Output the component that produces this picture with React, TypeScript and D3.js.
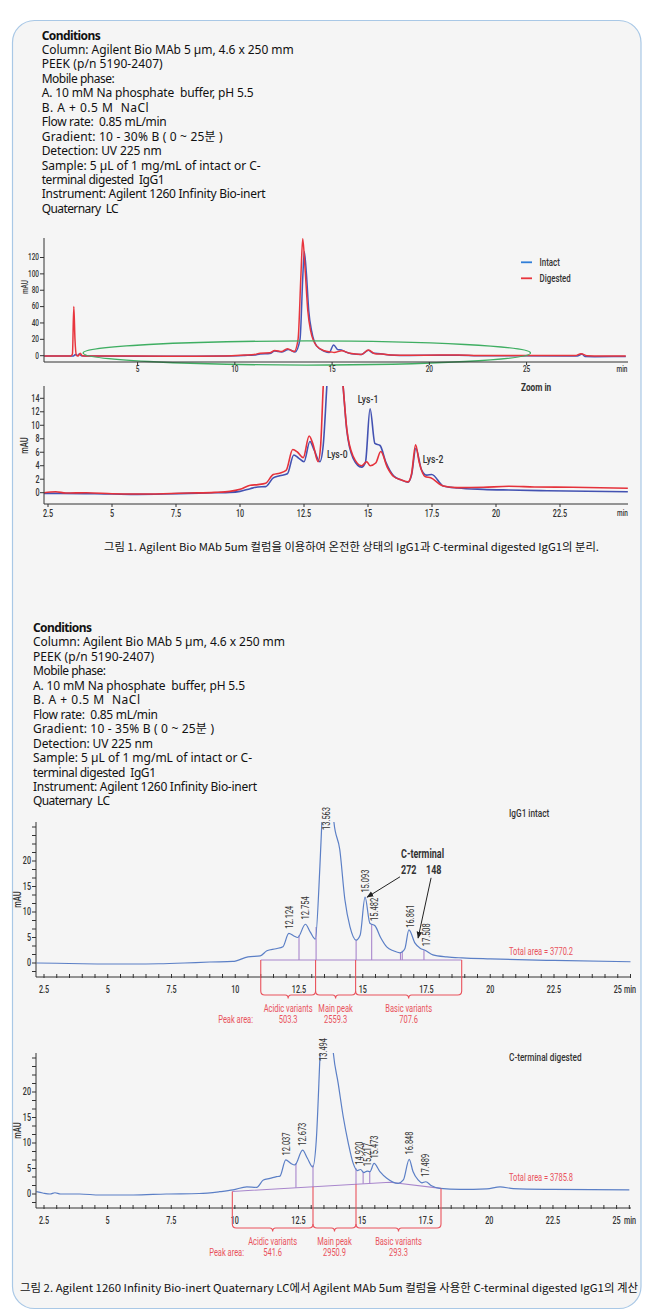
import React from 'react';
import * as d3 from 'd3';

type Pt = [number, number];

// ---------- Text content ----------
const conditionsTitle = 'Conditions';
const conditionsFig1 = [
  'Column: Agilent Bio MAb 5 µm, 4.6 x 250 mm',
  'PEEK (p/n 5190-2407)',
  'Mobile phase:',
  'A. 10 mM Na phosphate  buffer, pH 5.5',
  'B. A + 0.5 M  NaCl',
  'Flow rate:  0.85 mL/min',
  'Gradient: 10 - 30% B ( 0 ~ 25분 )',
  'Detection: UV 225 nm',
  'Sample: 5 µL of 1 mg/mL of intact or C-',
  'terminal digested  IgG1',
  'Instrument: Agilent 1260 Infinity Bio-inert',
  'Quaternary  LC',
];
const conditionsFig2 = [
  'Column: Agilent Bio MAb 5 µm, 4.6 x 250 mm',
  'PEEK (p/n 5190-2407)',
  'Mobile phase:',
  'A. 10 mM Na phosphate  buffer, pH 5.5',
  'B. A + 0.5 M  NaCl',
  'Flow rate:  0.85 mL/min',
  'Gradient: 10 - 35% B ( 0 ~ 25분 )',
  'Detection: UV 225 nm',
  'Sample: 5 µL of 1 mg/mL of intact or C-',
  'terminal digested  IgG1',
  'Instrument: Agilent 1260 Infinity Bio-inert',
  'Quaternary  LC',
];
const conditionWidths = [59, 252, 121, 73, 212, 107, 125, 181, 120, 219, 123, 224, 77];
const caption1 = '그림 1. Agilent Bio MAb 5um 컬럼을 이용하여 온전한 상태의 IgG1과 C-terminal digested IgG1의 분리.';
const caption2 = '그림 2. Agilent 1260 Infinity Bio-inert Quaternary LC에서 Agilent MAb 5um 컬럼을 사용한 C-terminal digested IgG1의 계산';

// ---------- Figure 1: overview ----------
const overviewXTicks = [5, 10, 15, 20, 25];
const overviewYTicks = [0, 20, 40, 60, 80, 100, 120];
const legendNames = ['Intact', 'Digested'];
const overviewIntact: Pt[] = [
  [0.2, -0.5], [1.7, -0.5], [1.8, 1.5], [1.9, 0], [2.0, 2], [2.1, 0], [2.4, -0.5], [8, -0.6], [9.5, -0.4],
  [10.5, 0.3], [11, 0.8], [11.3, 2.2], [11.8, 2.8], [12.05, 5.6], [12.4, 4.5], [12.75, 7.5], [13.1, 4.6],
  [13.35, 20], [13.5, 100], [13.57, 127], [13.68, 100], [13.8, 55], [13.95, 30], [14.2, 12], [14.6, 5.5],
  [14.85, 3.8], [15.08, 13], [15.3, 7.3], [15.48, 7], [15.7, 4.5], [16.0, 2.5], [16.5, 1.6], [16.87, 6.6],
  [17.09, 3.4], [17.49, 2.5], [17.94, 1.0], [19, 0.3], [20.5, 0.6], [21.5, 0.6], [22.5, 0], [27.6, -0.3],
  [27.85, 2], [28.0, -1], [28.5, -1.2], [30.1, -1],
];
const overviewDigested: Pt[] = [
  [0.2, -0.5], [1.55, -0.5], [1.65, 2], [1.72, 60], [1.78, 20], [1.85, 1], [1.95, -0.3], [2.05, 3], [2.15, 0],
  [2.4, -0.5], [5, -0.5], [8, -0.6], [9.5, -0.3], [10.5, 0.8], [11, 1.5], [11.3, 3], [11.8, 3.5], [12.05, 6.5],
  [12.4, 5], [12.7, 8.5], [13.05, 5], [13.25, 20], [13.4, 100], [13.49, 143], [13.6, 110], [13.75, 55],
  [13.9, 30], [14.2, 12], [14.6, 6], [14.95, 4.6], [15.1, 4], [15.5, 6], [15.9, 3], [16.5, 1.6], [16.87, 7],
  [17.2, 2.5], [17.6, 2], [18, 1], [19, 0.4], [20.5, 0.8], [21.5, 0.8], [22.5, 0.3], [27.5, 0.2], [27.8, 2.5],
  [28.1, 0], [30.1, -0.5],
];
const zoomEllipseCenter: Pt = [13.7, 3.3];
const zoomEllipseRadius: Pt = [11.5, 14.7];

// ---------- Figure 1: zoom in ----------
const zoomXTicks = [2.5, 5, 7.5, 10, 12.5, 15, 17.5, 20, 22.5];
const zoomYTicks = [0, 2, 4, 6, 8, 10, 12, 14];
const zoomIntact: Pt[] = [
  [2.35, -0.1], [3, -0.1], [5, -0.2], [6, -0.25], [7, -0.2], [8, -0.1], [9, 0], [9.6, 0.05], [10, 0.2],
  [10.4, 0.6], [10.7, 0.85], [11.0, 0.9], [11.3, 2.2], [11.55, 2.5], [11.85, 2.8], [12.1, 5.6], [12.3, 5.1],
  [12.5, 4.6], [12.73, 7.6], [12.9, 6.3], [13.12, 4.6], [13.25, 7], [13.39, 15.7], [13.6, 30], [13.9, 22],
  [14.03, 15.7], [14.17, 9.3], [14.42, 5.1], [14.75, 3.8], [14.9, 4.5], [15.08, 12.45], [15.27, 7.3],
  [15.47, 7.0], [15.7, 4.5], [16.0, 2.5], [16.3, 1.9], [16.56, 1.55], [16.7, 2.6], [16.87, 6.6], [17.09, 3.4],
  [17.3, 2.6], [17.49, 2.7], [17.94, 1.0], [18.5, 0.7], [19.5, 0.5], [20.5, 0.4], [22, 0.3], [25.15, 0.15],
];
const zoomDigested: Pt[] = [
  [2.35, 0], [2.8, 0.15], [3.2, -0.05], [4, 0], [5, -0.15], [6, -0.2], [7, -0.15], [8, -0.05], [9, 0.05],
  [9.6, 0.2], [10, 0.5], [10.4, 1.1], [10.7, 1.2], [11.0, 1.4], [11.3, 2.7], [11.55, 2.9], [11.8, 3.3],
  [12.06, 6.4], [12.25, 6.0], [12.47, 5.2], [12.7, 8.4], [12.85, 7.2], [13.05, 4.6], [13.15, 7], [13.25, 15.7],
  [13.5, 30], [13.9, 22], [14.03, 15.7], [14.17, 9.5], [14.42, 5.4], [14.75, 4.0], [14.95, 4.6], [15.08, 4.0],
  [15.3, 4.4], [15.5, 6.1], [15.75, 3.8], [16.0, 2.4], [16.3, 1.9], [16.56, 1.6], [16.7, 2.8], [16.86, 7.1],
  [17.0, 4.5], [17.23, 2.4], [17.45, 2.2], [17.94, 1.0], [18.5, 0.75], [19.5, 0.8], [20.5, 0.95], [21.5, 0.85],
  [23, 0.8], [25.15, 0.65],
];
const lysLabels = ['Lys-0', 'Lys-1', 'Lys-2'];
const lysLabelPos: Pt[] = [[13.4, 5.15], [14.6, 13.3], [17.14, 4.4]];

// ---------- Figure 2 ----------
const variantXTicks = [2.5, 5, 7.5, 10, 12.5, 15, 17.5, 20, 22.5, 25];
const variantYTicks = [0, 5, 10, 15, 20];
const variantNames = ['Acidic variants', 'Main peak', 'Basic variants'];

const intactTrace: Pt[] = [
  [2.2, 0], [3, -0.05], [4, -0.15], [5, -0.2], [6, -0.2], [7, -0.15], [8, 0], [9, 0.2], [9.9, 0.3], [10.5, 1.2],
  [10.98, 1.4], [11.24, 2.4], [11.6, 2.8], [11.87, 3.2], [12.1, 5.8], [12.3, 5.3], [12.45, 5], [12.75, 7.6],
  [12.95, 6], [13.14, 4.7], [13.32, 19], [13.4, 28], [13.56, 45], [13.8, 35], [13.87, 27.6], [14.1, 22.2],
  [14.3, 12.4], [14.5, 7.1], [14.74, 4.5], [14.9, 5.5], [15.09, 12.9], [15.28, 7.8], [15.48, 7.3], [15.7, 5],
  [15.95, 3.1], [16.2, 2.4], [16.46, 2.0], [16.65, 2.8], [16.81, 6.5], [17.05, 3.9], [17.25, 2.9], [17.44, 2.5],
  [17.75, 1.6], [18.3, 1.2], [18.9, 1.0], [20, 0.8], [22.5, 0.5], [25.5, 0.25],
];
const intactPeaks = ['12.124', '12.754', '13.563', '15.093', '15.482', '16.861', '17.508'];
const intactDrops = [12.5, 13.17, 14.74, 15.35, 16.48, 16.55, 17.4];
const intactBaseline: Pt[] = [[11.0, 0.6], [18.88, 0.6]];
const intactBounds = [11.0, 13.15, 14.72, 18.88];
const intactAreas = ['503.3', '2559.3', '707.6'];
const intactTotal = 'Total area = 3770.2';

const digestedTrace: Pt[] = [
  [2.2, 0.45], [2.45, 0.2], [2.74, 0], [2.93, 0.25], [3.15, 0], [3.9, 0], [4.7, -0.2], [6.0, -0.2], [7.3, 0],
  [8.6, 0.1], [9.4, 0.45], [9.93, 0.8], [10.47, 1.4], [10.86, 1.3], [11.12, 2.75], [11.38, 3.05], [11.64, 3.4],
  [11.77, 3.5], [12.0, 6.7], [12.2, 6.0], [12.36, 5.7], [12.66, 8.6], [12.85, 7], [13.06, 5.3], [13.2, 10.6],
  [13.35, 27.7], [13.5, 45], [13.75, 35], [13.87, 27.6], [14.06, 21.7], [14.26, 15.1], [14.46, 9.9],
  [14.65, 6], [14.81, 4.6], [14.94, 4.8], [15.07, 4.2], [15.2, 4.5], [15.31, 4.4], [15.47, 6.0], [15.7, 4.4],
  [15.97, 3.1], [16.42, 2.1], [16.62, 2.75], [16.85, 6.8], [17.0, 4.4], [17.2, 2.75], [17.35, 2.2], [17.5, 2.4],
  [17.73, 1.6], [18.06, 1.1], [18.85, 0.9], [19.9, 1.0], [20.42, 1.4], [20.94, 1.05], [22.5, 0.9], [25.5, 0.8],
];
const digestedPeaks = ['12.037', '12.673', '13.494', '14.920', '15.217', '15.473', '16.848', '17.489'];
const digestedDrops = [12.4, 13.07, 14.76, 15.04, 15.3];
const digestedBaseline: Pt[] = [[9.9, 0.5], [16.1, 2.3], [18.1, 1.1]];
const digestedBounds = [9.9, 13.07, 14.76, 18.1];
const digestedAreas = ['541.6', '2950.9', '293.3'];
const digestedTotal = 'Total area = 3785.8';

const cTerminalLabels = ['C-terminal', '272', '148'];
const cTerminalLabelPos: Pt[] = [[16.5, 20.6], [16.5, 17.5], [17.48, 17.5]];
const cTerminalArrows: [Pt, Pt][] = [
  [[16.46, 16.9], [15.17, 12.9]],
  [[17.68, 16.7], [17.17, 4.9]],
];

// ---------- styling ----------
const FONT_UI = "'Noto Sans','Noto Sans CJK KR',sans-serif";
const FONT_KR = "'Noto Sans CJK KR','Noto Sans',sans-serif";
const FONT_C = "Roboto,'Noto Sans',sans-serif";
const INK = '#333';
const TRACE = '#5b7fc6';
const PURPLE = '#a886cc';
const RED = '#e9525c';

function interp(pts: Pt[], t: number): number {
  if (t <= pts[0][0]) return pts[0][1];
  for (let i = 1; i < pts.length; i++) {
    if (t <= pts[i][0]) {
      const [t0, v0] = pts[i - 1];
      const [t1, v1] = pts[i];
      return v0 + ((v1 - v0) * (t - t0)) / (t1 - t0);
    }
  }
  return pts[pts.length - 1][1];
}

type CTProps = {
  x: number; y: number; children: React.ReactNode; size?: number; anchor?: string;
  fill?: string; weight?: number | string; sx?: number; rotate?: number; baseline?: string;
};
function CT({ x, y, children, size = 10, anchor = 'start', fill = INK, weight = 500, sx = 0.75, rotate = 0, baseline }: CTProps) {
  const tr = `translate(${x},${y})${rotate ? ` rotate(${rotate})` : ''} scale(${sx},1)`;
  return (
    <text transform={tr} fontFamily={FONT_C} fontSize={size} textAnchor={anchor as any} fill={fill}
      fontWeight={weight} dominantBaseline={baseline as any}>
      {children}
    </text>
  );
}

function Conditions({ x, y, lines }: { x: number; y: number; lines: string[] }) {
  const all = [conditionsTitle, ...lines];
  return (
    <g fontFamily={FONT_UI} fontSize={12} fill="#111">
      {all.map((s, i) => (
        <text key={i} x={x} y={y + i * 14.45} fontWeight={i === 0 ? 700 : 400}
          textLength={conditionWidths[i]} lengthAdjust="spacing" style={{ whiteSpace: 'pre' }}>
          {s}
        </text>
      ))}
    </g>
  );
}

function Overview() {
  const x = d3.scaleLinear().domain([5, 25]).range([137.6, 526.6]);
  const y = d3.scaleLinear().domain([0, 120]).range([355.7, 257.5]);
  const left = 44, right = 628, top = 238, axisY = 362;
  const line = d3.line<Pt>().x(d => x(d[0])).y(d => y(d[1])).curve(d3.curveMonotoneX);
  const cx = x(zoomEllipseCenter[0]), cy = y(zoomEllipseCenter[1]);
  const rx = x(zoomEllipseCenter[0] + zoomEllipseRadius[0]) - cx;
  const ry = y(0) - y(zoomEllipseRadius[1]);
  return (
    <g>
      <defs>
        <clipPath id="clipOv"><rect x={left} y={top - 2} width={right - left} height={axisY - top + 2} /></clipPath>
      </defs>
      <g clipPath="url(#clipOv)" fill="none" strokeWidth={1.5} strokeLinejoin="round">
        <path d={line(overviewIntact) || ''} stroke="#4456b8" />
        <path d={line(overviewDigested) || ''} stroke="#e8353d" />
      </g>
      <ellipse cx={cx} cy={cy} rx={rx} ry={ry} fill="none" stroke="#3fae62" strokeWidth={1.3} />
      <line x1={left} x2={left} y1={top} y2={axisY} stroke={INK} strokeWidth={1} />
      <line x1={left} x2={right} y1={axisY} y2={axisY} stroke={INK} strokeWidth={1} />
      {overviewYTicks.map(v => (
        <g key={v}>
          <line x1={left - 4} x2={left} y1={y(v)} y2={y(v)} stroke={INK} />
          <CT x={left - 5} y={y(v)} size={9} anchor="end" baseline="central" sx={0.72}>{v}</CT>
        </g>
      ))}
      {overviewXTicks.map(t => (
        <g key={t}>
          <line x1={x(t)} x2={x(t)} y1={axisY} y2={axisY + 3} stroke={INK} />
          <CT x={x(t)} y={369} size={9} anchor="middle" baseline="central" sx={0.72}>{t}</CT>
        </g>
      ))}
      <CT x={622} y={369} size={9} anchor="middle" baseline="central" sx={0.72}>min</CT>
      <CT x={25} y={287} size={9} anchor="middle" baseline="central" rotate={-90} sx={0.72}>mAU</CT>
      {legendNames.map((n, i) => (
        <g key={n}>
          <line x1={521} x2={532} y1={262.3 + i * 16} y2={262.3 + i * 16} stroke={i === 0 ? '#2f7ed8' : '#e8353d'} strokeWidth={1.8} />
          <CT x={539.5} y={262.3 + i * 16} size={11} baseline="central" sx={0.72}>{n}</CT>
        </g>
      ))}
    </g>
  );
}

function ZoomChart() {
  const x = d3.scaleLinear().domain([2.5, 22.5]).range([48, 560]);
  const y = d3.scaleLinear().domain([0, 14]).range([492.7, 398.3]);
  const left = 44, right = 628, top = 386, axisY = 504;
  const line = d3.line<Pt>().x(d => x(d[0])).y(d => y(d[1])).curve(d3.curveMonotoneX);
  return (
    <g>
      <defs>
        <clipPath id="clipZoom"><rect x={left} y={top} width={right - left} height={axisY - top} /></clipPath>
      </defs>
      <g clipPath="url(#clipZoom)" fill="none" strokeWidth={1.6} strokeLinejoin="round">
        <path d={line(zoomIntact) || ''} stroke="#4352b2" />
        <path d={line(zoomDigested) || ''} stroke="#e5323b" />
      </g>
      <line x1={left} x2={left} y1={top} y2={axisY} stroke={INK} />
      <line x1={left} x2={right} y1={axisY} y2={axisY} stroke={INK} />
      {zoomYTicks.map(v => (
        <g key={v}>
          <line x1={left - 4} x2={left} y1={y(v)} y2={y(v)} stroke={INK} />
          <CT x={left - 4.5} y={y(v)} size={10} anchor="end" baseline="central" sx={0.72}>{v}</CT>
        </g>
      ))}
      {zoomXTicks.map(t => (
        <g key={t}>
          <line x1={x(t)} x2={x(t)} y1={axisY} y2={axisY + 3} stroke={INK} />
          <CT x={x(t)} y={513.5} size={10} anchor="middle" baseline="central" sx={0.72}>{t}</CT>
        </g>
      ))}
      <CT x={622.5} y={513.5} size={9} anchor="middle" baseline="central" sx={0.72}>min</CT>
      <CT x={25} y={445.5} size={10} anchor="middle" baseline="central" rotate={-90} sx={0.75}>mAU</CT>
      <CT x={521} y={391} size={11} weight={700} sx={0.75}>Zoom in</CT>
      {lysLabels.map((s, i) => (
        <CT key={s} x={x(lysLabelPos[i][0])} y={y(lysLabelPos[i][1])} size={11} sx={0.78}>{s}</CT>
      ))}
    </g>
  );
}

type VariantProps = {
  id: string; top: number; zeroY: number; axisY: number; x25: number;
  trace: Pt[]; peaks: string[]; drops: number[]; baseline: Pt[]; bounds: number[]; areas: string[];
  title: string; titleY: number; total: string; totalY: number; bracketY: number; peakAreaX: number;
  annotate?: boolean;
};

function VariantChart(p: VariantProps) {
  const x = d3.scaleLinear().domain([2.5, 25]).range([44, p.x25]);
  const y = d3.scaleLinear().domain([0, 20]).range([p.zeroY, p.zeroY - 102]);
  const left = 36, right = 631, top = p.top, axisY = p.axisY;
  const line = d3.line<Pt>().x(d => x(d[0])).y(d => y(d[1])).curve(d3.curveMonotoneX);
  const baseLine = d3.line<Pt>().x(d => x(d[0])).y(d => y(d[1]));
  const xMinor = d3.range(2.5, 25.51, 0.5);
  const yMinor = d3.range(-1, 17).map(i => (i * 5) / 3);
  const by = p.bracketY, r = 4;
  const bracket = (a: number, b: number) => {
    const m = (a + b) / 2;
    return `M${a},${by - r} Q${a},${by} ${a + r},${by} L${m - 3},${by} Q${m},${by} ${m},${by + 3.5} Q${m},${by} ${m + 3},${by} L${b - r},${by} Q${b},${by} ${b},${by - r}`;
  };
  return (
    <g>
      <defs>
        <clipPath id={`clip${p.id}`}><rect x={left} y={top} width={right - left} height={axisY - top} /></clipPath>
        <marker id={`arr${p.id}`} viewBox="0 0 10 10" refX={9} refY={5} markerWidth={7} markerHeight={7} orient="auto">
          <path d="M0,1 L10,5 L0,9 Z" fill="#222" />
        </marker>
      </defs>
      <path d={baseLine(p.baseline) || ''} fill="none" stroke={PURPLE} strokeWidth={1.1} />
      {p.drops.map((t, i) => (
        <line key={i} x1={x(t)} x2={x(t)} y1={y(interp(p.baseline, t))} y2={y(interp(p.trace, t))}
          stroke={PURPLE} strokeWidth={1.1} />
      ))}
      <g clipPath={`url(#clip${p.id})`}>
        <path d={line(p.trace) || ''} fill="none" stroke={TRACE} strokeWidth={1.2} strokeLinejoin="round" />
      </g>
      <line x1={left} x2={left} y1={top} y2={axisY} stroke={INK} />
      <line x1={left} x2={right} y1={axisY} y2={axisY} stroke={INK} />
      {yMinor.map((v, i) => (
        <line key={i} x1={left - 4} x2={left} y1={y(v)} y2={y(v)} stroke={INK} />
      ))}
      {variantYTicks.map(v => (
        <CT key={v} x={31} y={y(v)} size={10} anchor="end" baseline="central" sx={0.72}>{v}</CT>
      ))}
      {xMinor.map((t, i) => (
        <line key={i} x1={x(t)} x2={x(t)} y1={axisY - 3} y2={axisY + 1} stroke={INK} />
      ))}
      {variantXTicks.map(t => (
        <CT key={t} x={x(t)} y={axisY + 13} size={10} anchor="middle" baseline="central" sx={0.72}>{t}</CT>
      ))}
      <CT x={624} y={axisY + 13} size={10} baseline="central" sx={0.72}>min</CT>
      <CT x={18} y={(top + axisY) / 2} size={10} anchor="middle" baseline="central" rotate={-90} sx={0.75}>mAU</CT>
      {p.bounds.map((t, i) => (
        <line key={i} x1={x(t)} x2={x(t)} y1={y(interp(p.baseline, t))} y2={by - r} stroke={RED} strokeWidth={1.1} />
      ))}
      {variantNames.map((n, i) => {
        const a = x(p.bounds[i]), b = x(p.bounds[i + 1]);
        const m = (a + b) / 2;
        return (
          <g key={n}>
            <path d={bracket(a, b)} fill="none" stroke={RED} strokeWidth={1.1} />
            <CT x={m} y={by + 17} size={10} anchor="middle" fill={RED} weight={400} sx={0.75}>{n}</CT>
            <CT x={m} y={by + 28} size={10} anchor="middle" fill={RED} weight={400} sx={0.75}>{p.areas[i]}</CT>
          </g>
        );
      })}
      <CT x={p.peakAreaX} y={by + 28} size={10} anchor="end" fill={RED} weight={400} sx={0.75}>Peak area:</CT>
      {p.peaks.map(s => {
        const t = +s;
        const yy = Math.max(y(interp(p.trace, t)) - 5, top + 8);
        return (
          <CT key={s} x={x(t)} y={yy} size={10} rotate={-90} baseline="central" weight={400} sx={0.75}>{s}</CT>
        );
      })}
      <CT x={509} y={p.titleY} size={11} sx={0.75}>{p.title}</CT>
      <CT x={509} y={p.totalY} size={10} fill={RED} weight={400} sx={0.75}>{p.total}</CT>
      {p.annotate && (
        <g>
          {cTerminalLabels.map((s, i) => (
            <CT key={s} x={x(cTerminalLabelPos[i][0])} y={y(cTerminalLabelPos[i][1])} size={12} weight={700} sx={0.75}>{s}</CT>
          ))}
          {cTerminalArrows.map((a, i) => (
            <line key={i} x1={x(a[0][0])} y1={y(a[0][1])} x2={x(a[1][0])} y2={y(a[1][1])}
              stroke="#222" strokeWidth={1} markerEnd={`url(#arr${p.id})`} />
          ))}
        </g>
      )}
    </g>
  );
}

export default function App() {
  return (
    <svg width={650} height={1314} style={{ position: 'absolute', left: 0, top: 0, background: '#fff' }}>
      <rect x={12.5} y={20.5} width={628.5} height={1288} rx={22} fill="#f5f5f5" stroke="#a9c8e6" strokeWidth={1.2} />
      <Conditions x={41.7} y={39.5} lines={conditionsFig1} />
      <Overview />
      <ZoomChart />
      <text x={104} y={551} fontFamily={FONT_KR} fontSize={11} fill="#111" textLength={495} lengthAdjust="spacingAndGlyphs">{caption1}</text>
      <Conditions x={33} y={632} lines={conditionsFig2} />
      <VariantChart id="A" top={822} zeroY={963} axisY={977} x25={617.75}
        trace={intactTrace} peaks={intactPeaks} drops={intactDrops} baseline={intactBaseline}
        bounds={intactBounds} areas={intactAreas} title="IgG1 intact" titleY={817}
        total={intactTotal} totalY={955} bracketY={995} peakAreaX={253} annotate />
      <VariantChart id="B" top={1053} zeroY={1194} axisY={1208} x25={616.6}
        trace={digestedTrace} peaks={digestedPeaks} drops={digestedDrops} baseline={digestedBaseline}
        bounds={digestedBounds} areas={digestedAreas} title="C-terminal digested" titleY={1061}
        total={digestedTotal} totalY={1181} bracketY={1228} peakAreaX={244} />
      <text x={20} y={1292} fontFamily={FONT_KR} fontSize={11} fill="#111" textLength={618} lengthAdjust="spacingAndGlyphs">{caption2}</text>
    </svg>
  );
}
